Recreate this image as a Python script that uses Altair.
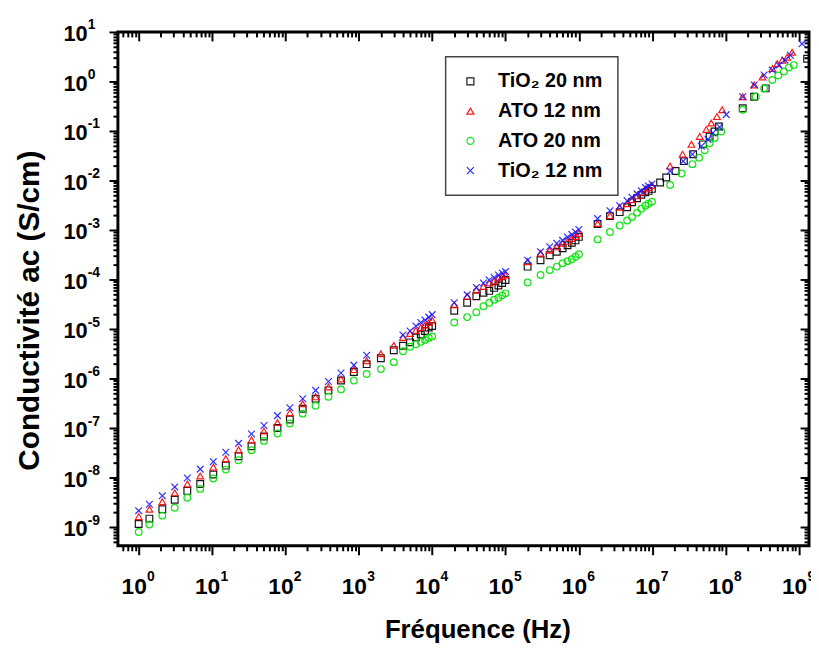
import altair as alt
import pandas as pd

# ---------------- data ----------------
series_names = ["TiO₂ 20 nm", "ATO 12 nm", "ATO 20 nm", "TiO₂ 12 nm"]
series_colors = ["#000000", "#ff0000", "#00e000", "#1a1aff"]
series_shapes = ["square", "triangle-up", "circle", "M-1,-1L1,1M-1,1L1,-1"]

# shared frequency grid (Hz), low/medium frequency range
freq_common = [1, 1.4, 2.1, 3.1, 4.6, 6.9, 10.4, 15.4, 23, 34.5, 51, 78, 115,
               172, 258, 386, 572, 857, 1280,
               2000, 3000, 4000, 5000, 6000, 7000, 8000, 9000, 10000,
               20000, 30000, 40000, 50000, 60000, 70000, 80000, 90000, 100000,
               200000, 300000, 400000, 500000, 600000, 700000, 800000, 900000, 1000000,
               1.8e6, 2.65e6, 3.6e6, 4.55e6, 5.3e6, 6.2e6, 7.1e6, 8.05e6, 8.9e6, 9.9e6]

# log10 of conductivity (S/cm) on the shared grid
log_tio2_20 = [-8.94, -8.83, -8.64, -8.45, -8.27, -8.13, -7.94, -7.76, -7.57, -7.37, -7.17, -7.00, -6.83,
               -6.61, -6.41, -6.24, -6.04, -5.87, -5.71,
               -5.59, -5.43, -5.34, -5.27, -5.17, -5.11, -5.04, -4.97, -4.94,
               -4.63, -4.47, -4.34, -4.27, -4.23, -4.17, -4.12, -4.07, -4.01,
               -3.74, -3.61, -3.51, -3.44, -3.37, -3.31, -3.26, -3.21, -3.14,
               -2.88, -2.72, -2.64, -2.54, -2.44, -2.36, -2.29, -2.24, -2.21, -2.17]
log_ato_12 = [-8.79, -8.64, -8.49, -8.31, -8.13, -7.97, -7.79, -7.62, -7.44, -7.24, -7.06, -6.89, -6.69,
              -6.51, -6.37, -6.17, -6.01, -5.82, -5.64,
              -5.50, -5.33, -5.17, -5.09, -5.03, -4.97, -4.92, -4.87, -4.82,
              -4.51, -4.34, -4.21, -4.14, -4.07, -4.03, -3.97, -3.94, -3.91,
              -3.64, -3.47, -3.41, -3.34, -3.27, -3.23, -3.17, -3.13, -3.07,
              -2.87, -2.71, -2.54, -2.47, -2.39, -2.31, -2.24, -2.17, -2.14, -2.10]
log_ato_20 = [-9.10, -8.95, -8.77, -8.61, -8.41, -8.23, -8.02, -7.84, -7.65, -7.45, -7.26, -7.11, -6.91,
              -6.71, -6.55, -6.37, -6.22, -6.04, -5.91,
              -5.81, -5.67, -5.45, -5.36, -5.31, -5.26, -5.22, -5.18, -5.15,
              -4.87, -4.76, -4.66, -4.54, -4.47, -4.41, -4.37, -4.32, -4.28,
              -4.06, -3.91, -3.81, -3.74, -3.67, -3.63, -3.59, -3.54, -3.49,
              -3.19, -3.04, -2.91, -2.81, -2.74, -2.65, -2.57, -2.51, -2.47, -2.43]
log_tio2_12 = [-8.67, -8.54, -8.37, -8.19, -8.01, -7.83, -7.68, -7.49, -7.31, -7.12, -6.95, -6.75, -6.59,
               -6.41, -6.24, -6.06, -5.89, -5.73, -5.53,
               None, None, -5.12, -5.04, -4.94, -4.87, -4.82, -4.76, -4.71,
               -4.47, -4.31, -4.16, -4.07, -4.01, -3.96, -3.91, -3.87, -3.84,
               -3.61, -3.44, -3.34, -3.27, -3.21, -3.14, -3.09, -3.04, -2.99,
               -2.77, -2.61, -2.51, -2.41, -2.34, -2.27, -2.21, -2.14, -2.11, -2.07]

# high-frequency range, per sample
hf_freq_tio2_20 = [1.28e7, 1.55e7, 2.08e7, 2.70e7, 3.61e7, 4.92e7, 6.06e7, 7.08e7, 8.09e7,
                   1.71e8, 2.45e8, 3.52e8, 1.29e9]
hf_log_tio2_20 = [-2.04, -1.94, -1.81, -1.61, -1.47, -1.27, -1.11, -1.01, -0.91,
                  -0.54, -0.31, -0.14, 0.46]
hf_freq_ato_12 = [1.75e7, 2.59e7, 3.42e7, 4.44e7, 5.46e7, 6.37e7, 7.61e7, 8.97e7,
                  1.71e8, 2.45e8, 3.18e8, 4.33e8, 5.06e8, 5.91e8, 6.91e8, 8.07e8]
hf_log_ato_12 = [-1.71, -1.47, -1.27, -1.11, -0.97, -0.84, -0.71, -0.57,
                 -0.31, -0.07, 0.09, 0.26, 0.36, 0.43, 0.49, 0.59]
hf_freq_ato_20 = [1.75e7, 2.51e7, 3.53e7, 4.35e7, 5.19e7, 6.06e7, 7.08e7, 8.7e7,
                  1.71e8, 2.58e8, 3.35e8, 4.33e8, 5.22e8, 6.24e8, 7.28e8, 8.51e8]
hf_log_ato_20 = [-2.09, -1.86, -1.67, -1.54, -1.39, -1.25, -1.14, -1.01,
                 -0.57, -0.31, -0.14, 0.03, 0.12, 0.20, 0.28, 0.33]
hf_freq_tio2_12 = [1.75e7, 2.64e7, 3.53e7, 4.67e7, 5.75e7, 6.72e7, 8.27e7, 1.02e8,
                   1.71e8, 2.45e8, 3.35e8, 4.33e8, 5.33e8, 6.43e8, 7.65e8, 1.10e9]
hf_log_tio2_12 = [-1.81, -1.61, -1.47, -1.31, -1.17, -1.04, -0.92, -0.67,
                  -0.31, -0.07, 0.13, 0.23, 0.33, 0.43, 0.53, 0.76]

low_logs = [log_tio2_20, log_ato_12, log_ato_20, log_tio2_12]
hf_freqs = [hf_freq_tio2_20, hf_freq_ato_12, hf_freq_ato_20, hf_freq_tio2_12]
hf_logs = [hf_log_tio2_20, hf_log_ato_12, hf_log_ato_20, hf_log_tio2_12]

rows = []
for i, name in enumerate(series_names):
    for f, lg in zip(freq_common, low_logs[i]):
        if lg is not None:
            rows.append({"sample": name, "order": i, "freq": f, "sigma": 10 ** lg})
    for f, lg in zip(hf_freqs[i], hf_logs[i]):
        rows.append({"sample": name, "order": i, "freq": f, "sigma": 10 ** lg})
df = pd.DataFrame(rows)

# ---------------- axes ----------------
X_DOMAIN = [0.521, 1.37e9]
Y_DOMAIN = [4.17e-10, 10]
x_ticks = [m * 10.0 ** k for k in range(-1, 10) for m in range(1, 10)
           if X_DOMAIN[0] <= m * 10.0 ** k <= X_DOMAIN[1]]
y_ticks = [m * 10.0 ** k for k in range(-10, 2) for m in range(1, 10)
           if Y_DOMAIN[0] <= m * 10.0 ** k <= Y_DOMAIN[1]]

EXP = "round(log(datum.value)/LN10)"
MAJOR = f"abs(log(datum.value)/LN10 - {EXP}) < 1e-6"
BASE_LABEL = f"({MAJOR}) ? '10' : ''"
EXP_LABEL = f"({MAJOR}) ? '' + {EXP} : ''"
TICKSIZE = {"condition": {"test": MAJOR, "value": 9}, "value": 5}
FONT = "Liberation Sans"

W, H = 698, 519

common = dict(domain=False, grid=False, ticks=True, tickWidth=2,
              tickSize=TICKSIZE, labelOverlap=False, labelFlush=False,
              labelFont=FONT, labelFontWeight="bold", labelColor="black")

# main axes: ticks, the "10" of each label, titles
x_main = alt.Axis(orient="bottom", values=x_ticks, labelExpr=BASE_LABEL, tickColor="black",
                  labelFontSize=23, labelPadding=21, labelAlign="center", labelOffset=-5,
                  labelBaseline="top",
                  title="Fréquence (Hz)", titleFont=FONT,
                  titleFontSize=26, titleFontWeight="bold", titleColor="black",
                  titleX=363, titleY=85, titleAlign="center", titleBaseline="middle",
                  **common)
y_main = alt.Axis(orient="left", values=y_ticks, labelExpr=BASE_LABEL, tickColor="black",
                  labelFontSize=22, labelPadding=22, labelAlign="right", labelBaseline="middle",
                  labelOffset=2,
                  title="Conductivité ac (S/cm)", titleFont=FONT,
                  titleFontSize=30, titleFontWeight="bold", titleColor="black",
                  titleX=-89, titleY=281, titleAngle=270, titleAlign="center",
                  titleBaseline="middle", **common)
# exponent labels (superscripts), drawn as a second label row of the same axes
x_exp = alt.Axis(orient="bottom", values=x_ticks, labelExpr=EXP_LABEL, tickColor="transparent",
                 labelFontSize=14, labelPadding=15, labelAlign="left", labelOffset=8,
                 labelBaseline="top", title=None, **common)
y_exp = alt.Axis(orient="left", values=y_ticks, labelExpr=EXP_LABEL, tickColor="transparent",
                 labelFontSize=14, labelPadding=22, labelAlign="left", labelBaseline="middle",
                 labelOffset=-7, title=None, **common)
# mirrored axes drawn on the top and right edges, ticks pointing inwards
x_top = alt.Axis(orient="bottom", offset=-H, values=x_ticks, labels=False, title=None,
                 tickColor="black", **common)
y_right = alt.Axis(orient="left", offset=-W, values=y_ticks, labels=False, title=None,
                   tickColor="black", **common)

x_scale = alt.Scale(type="log", domain=X_DOMAIN, nice=False)
y_scale = alt.Scale(type="log", domain=Y_DOMAIN, nice=False)

points = alt.Chart(df).mark_point(filled=False, size=46, strokeWidth=1.2, opacity=0.9, clip=True).encode(
    x=alt.X("freq:Q", scale=x_scale, axis=x_main),
    y=alt.Y("sigma:Q", scale=y_scale, axis=y_main),
    color=alt.Color("sample:N", scale=alt.Scale(domain=series_names, range=series_colors),
                    legend=alt.Legend(title=None)),
    shape=alt.Shape("sample:N", scale=alt.Scale(domain=series_names, range=series_shapes),
                    legend=alt.Legend(title=None)),
    order=alt.Order("order:Q"),
)

exp_axes = alt.Chart(df).mark_point(opacity=0).encode(
    x=alt.X("freq:Q", scale=x_scale, axis=x_exp),
    y=alt.Y("sigma:Q", scale=y_scale, axis=y_exp),
)

frame_axes = alt.Chart(df).mark_point(opacity=0).encode(
    x=alt.X("freq:Q", scale=x_scale, axis=x_top),
    y=alt.Y("sigma:Q", scale=y_scale, axis=y_right),
)

chart = alt.layer(points, exp_axes, frame_axes).resolve_axis(x="independent", y="independent").properties(
    width=W, height=H,
    autosize=alt.AutoSizeParams(type="none"),
    padding={"left": 111, "top": 21, "right": 2, "bottom": 100},
    background="white",
).configure_view(stroke="black", strokeWidth=3).configure_legend(
    orient="none", legendX=331, legendY=25,
    strokeColor="#444444", strokeWidth=1.5, fillColor="white", padding=15,
    labelFont=FONT, labelFontWeight="bold", labelFontSize=20, labelColor="black",
    labelOffset=18, rowPadding=10, symbolSize=50, symbolStrokeWidth=1.2,
)

chart.save("out.html", embed_options={"renderer": "svg", "actions": False})
